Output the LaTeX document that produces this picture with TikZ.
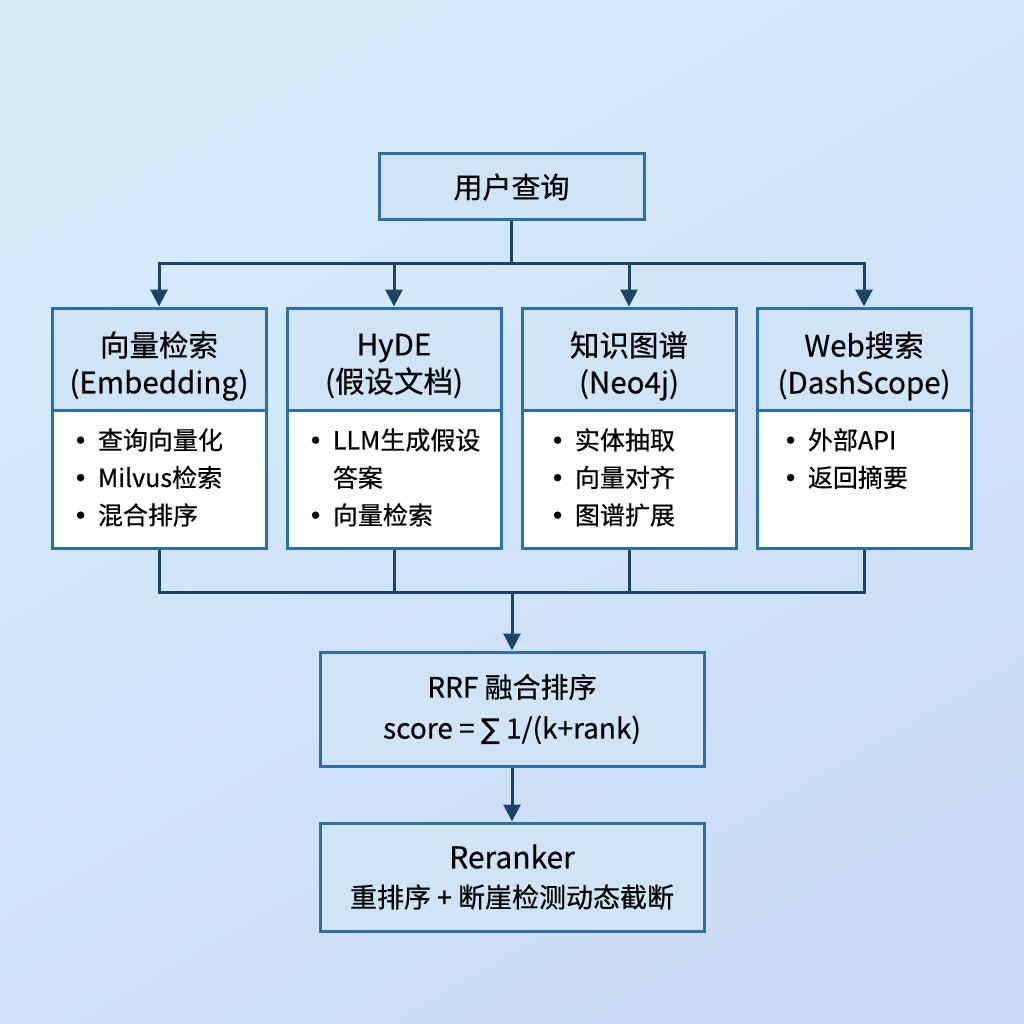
\documentclass[tikz,border=0pt]{standalone}
\usepackage{fontspec}
\setmainfont{Noto Sans CJK SC}[FakeBold=0.5]
\newfontfamily\symf{DejaVu Sans}[FakeBold=0.3]
\usetikzlibrary{arrows.meta}
\definecolor{bgA}{HTML}{D6ECFB}
\definecolor{bgB}{HTML}{CADCF7}
\definecolor{boxline}{HTML}{2E6EA6}
\definecolor{hdr}{HTML}{CFE5F7}
\definecolor{conn}{HTML}{1B4468}
\newcommand{\bul}{{\symf •}}
\newcommand{\bulletrows}[1]{\begin{tabular}{@{}l@{\hspace{10pt}}l@{}}#1\end{tabular}}
\begin{document}
\begin{tikzpicture}[x=1pt,y=-1pt,
  hbox/.style={draw=boxline, line width=3pt, fill=hdr, inner sep=0pt, align=center, text=black},
  colhead/.style={hbox, minimum width=214pt, minimum height=102pt},
  hlabel/.style={inner sep=0pt, align=center, yshift=-7pt, font=\fontsize{29.5}{37}\selectfont},
  colbody/.style={draw=boxline, line width=3pt, fill=white, minimum width=214pt, minimum height=138pt, inner sep=0pt},
  btext/.style={anchor=north west, inner sep=0pt, align=left, font=\fontsize{25}{37.5}\selectfont},
  conn/.style={draw=conn, line width=3pt},
  arr/.style={conn, -{Triangle[length=17pt,width=17pt]}}
]
\shade[top color=bgA, bottom color=bgB, shading angle=30] (0,0) rectangle (1024,1024);
\useasboundingbox (0,0) rectangle (1024,1024);

% top query
\node[hbox, minimum width=265pt, minimum height=66pt, font=\fontsize{29}{37}\selectfont] (q) at (511.5,187) {用户查询};

% columns
\foreach \i/\x in {1/159,2/394,3/629,4/864}{
  \node[colbody] (b\i) at (\x,479) {};
}
\node[colhead, label={[hlabel]center:{向量检索\\(Embedding)}}] (h1) at (159,359) {};
\node[colhead, label={[hlabel]center:{HyDE\\(假设文档)}}] (h2) at (394,359) {};
\node[colhead, label={[hlabel]center:{知识图谱\\(Neo4j)}}] (h3) at (629,359) {};
\node[colhead, label={[hlabel]center:{Web搜索\\(DashScope)}}] (h4) at (864,359) {};

\node[btext] (t1) at (73,423) {\bulletrows{\bul&查询向量化\\\bul&Milvus检索\\\bul&混合排序}};
\node[btext] (t2) at (308,423) {\bulletrows{\bul&LLM生成假设\\&答案\\\bul&向量检索}};
\node[btext] (t3) at (550,423) {\bulletrows{\bul&实体抽取\\\bul&向量对齐\\\bul&图谱扩展}};
\node[btext] (t4) at (783,423) {\bulletrows{\bul&外部API\\\bul&返回摘要}};

% bottom boxes
\node[hbox, minimum width=384pt, minimum height=114pt, font=\fontsize{28}{41}\selectfont] (rrf) at (512,709) {RRF 融合排序\\score = {\symf ∑} 1/(k+rank)};
\node[hbox, minimum width=384pt, minimum height=108pt, font=\fontsize{30}{39}\selectfont] (rr) at (512,877) {Reranker\\{\fontsize{27}{36}\selectfont 重排序 + 断崖检测动态截断}};

% split connectors
\coordinate (s1) at (159,263);
\coordinate (s4) at (864,263);
\draw[conn] (q.south) -- (q.south |- s1);
\draw[conn, line cap=rect] (s1) -- (s4);
\foreach \i in {1,2,3,4}{
  \draw[arr] (h\i.north |- s1) -- (h\i.north);
}

% merge connectors
\coordinate (m1) at (159,592);
\coordinate (m4) at (864,592);
\foreach \i in {1,2,3,4}{
  \draw[conn] (b\i.south) -- (b\i.south |- m1);
}
\draw[conn, line cap=rect] (m1) -- (m4);
\draw[arr] (rrf.north |- m1) -- (rrf.north);
\draw[arr] (rrf.south) -- (rr.north);
\end{tikzpicture}
\end{document}
